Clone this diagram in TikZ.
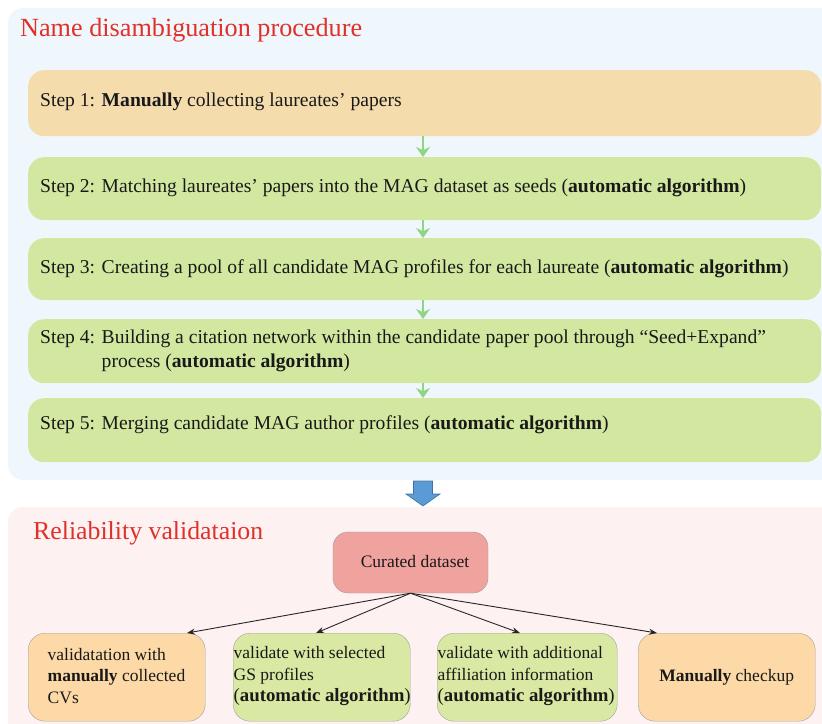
\documentclass[tikz,border=0pt]{standalone}
\usepackage{fontspec}
\setmainfont{Liberation Serif}
\usetikzlibrary{arrows.meta}
\definecolor{panelblue}{HTML}{F0F7FC}
\definecolor{panelpink}{HTML}{FDF1F1}
\definecolor{stepor}{HTML}{F5DCAD}
\definecolor{stepgr}{HTML}{D2E8A0}
\definecolor{titlered}{HTML}{E0302A}
\definecolor{arrgreen}{HTML}{8FD684}
\definecolor{bluearr}{HTML}{5B9BD5}
\definecolor{bluearrd}{HTML}{41719C}
\definecolor{curated}{HTML}{F0A29E}
\definecolor{boxor}{HTML}{FCD9A6}
\definecolor{boxgr}{HTML}{D9E8A2}
\definecolor{boxline}{HTML}{A0A0A0}
\begin{document}
\begin{tikzpicture}[x=1pt,y=-1pt,
  stepbox/.style={rounded corners=16pt, minimum width=793pt, inner sep=0pt, anchor=north west},
  steptext/.style={anchor=west, inner sep=0pt, font=\fontsize{19.6}{24}\selectfont, text=black!90},
  titletext/.style={anchor=west, inner sep=0pt, text=titlered},
  greenarrow/.style={draw=arrgreen, line width=1.8pt, -{Stealth[length=10pt,width=14pt]}},
  curbox/.style={draw=boxline, fill=curated, rounded corners=15pt, minimum width=155pt, minimum height=61pt, inner sep=0pt},
  valbox/.style={draw=boxline, rounded corners=17pt, minimum width=177pt, minimum height=88pt, inner sep=0pt, anchor=north west},
  valtext/.style={inner sep=0pt, align=left, font=\fontsize{17.5}{21.5}\selectfont, text=black!90},
  blackarrow/.style={draw=black!85, line width=0.9pt, -{Stealth[length=8pt,width=6pt]}}
]
\useasboundingbox (0,0) rectangle (822,723);
\clip (0,0) rectangle (822,723);
% panels
\fill[panelblue, rounded corners=15pt] (8,8) rectangle (860,480);
\fill[panelpink, rounded corners=15pt] (8,507) rectangle (860,760);
% titles
\node[titletext, font=\fontsize{26.2}{30}\selectfont] (title1) at (20,30) {Name disambiguation procedure};
\node[titletext, font=\fontsize{25.8}{30}\selectfont] (title2) at (33,533) {Reliability validataion};
% steps
\node[stepbox, fill=stepor, minimum height=66pt] (s1) at (28,70) {};
\node[stepbox, fill=stepgr, minimum height=63pt] (s2) at (28,157) {};
\node[stepbox, fill=stepgr, minimum height=62pt] (s3) at (28,238) {};
\node[stepbox, fill=stepgr, minimum height=64pt] (s4) at (28,319) {};
\node[stepbox, fill=stepgr, minimum height=64pt] (s5) at (28,398) {};
\node[steptext] (t1) at (40,102) {Step 1: \textbf{Manually} collecting laureates' papers};
\node[steptext] (t2) at (40,188) {Step 2: Matching laureates' papers into the MAG dataset as seeds (\textbf{automatic algorithm})};
\node[steptext] (t3) at (40,269) {Step 3: Creating a pool of all candidate MAG profiles for each laureate (\textbf{automatic algorithm})};
\node[steptext] (t4) at (40,351) {\begin{tabular}{@{}l@{ }l@{}}Step 4: & Building a citation network within the candidate paper pool through “Seed+Expand”\\ & process (\textbf{automatic algorithm})\end{tabular}};
\node[steptext] (t5) at (40,425) {Step 5: Merging candidate MAG author profiles (\textbf{automatic algorithm})};
% green arrows
\foreach \a/\b in {s1/s2,s2/s3,s3/s4,s4/s5}{
  \draw[greenarrow] (\a.south -| 423,0) -- (\b.north -| 423,0);
}
% blue arrow
\draw[fill=bluearr, draw=bluearrd, line width=0.6pt] (413.5,481) -- (432.5,481) -- (432.5,494) -- (440,494) -- (423,506) -- (406,494) -- (413.5,494) -- cycle;
% curated dataset
\node[curbox] (cd) at (410.5,562.5) {};
\node[inner sep=0pt, font=\fontsize{17.5}{21}\selectfont, text=black!90] (cdt) at (415,562) {Curated dataset};
% validation boxes
\node[valbox, fill=boxor] (b1) at (28,633) {};
\node[valbox, fill=boxgr] (b2) at (233,633) {};
\node[valbox, fill=boxgr, minimum width=180pt] (b3) at (437,633) {};
\node[valbox, fill=boxor] (b4) at (638,633) {};
\node[valtext, anchor=west] (v1) at (47.5,676) {validatation with\\\textbf{manually} collected\\CVs};
\node[valtext, anchor=west] (v2) at (233.5,676) {validate with selected\\GS profiles\\{\fontsize{18.8}{21.5}\selectfont(\textbf{automatic algorithm})}};
\node[valtext, anchor=west] (v3) at (437.5,676) {validate with additional\\affiliation information\\{\fontsize{18.8}{21.5}\selectfont(\textbf{automatic algorithm})}};
\node[valtext] (v4) at (b4.center) {\textbf{Manually} checkup};
% black arrows
\coordinate (e1) at (187,633);
\coordinate (e2) at (316,633);
\coordinate (e3) at (520,633);
\coordinate (e4) at (657,633);
\foreach \e in {e1,e2,e3,e4}{
  \draw[blackarrow] (cd.south) -- (\e);
}
\end{tikzpicture}
\end{document}
